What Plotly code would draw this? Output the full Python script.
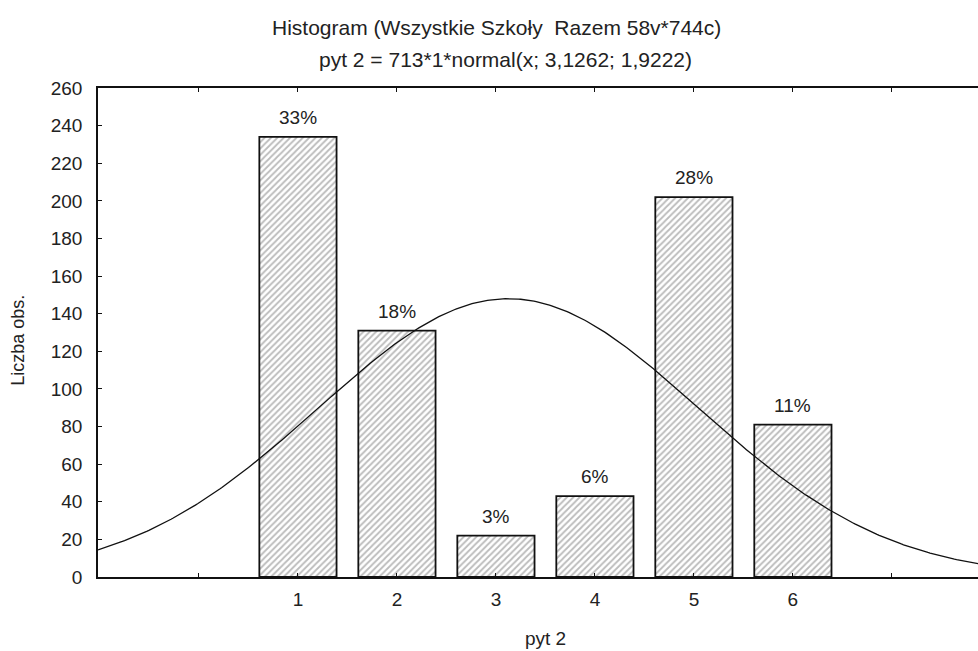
import numpy as np
import plotly.graph_objects as go

# Data
categories = [1, 2, 3, 4, 5, 6]
counts = [234, 131, 22, 43, 202, 81]
pct_labels = ["33%", "18%", "3%", "6%", "28%", "11%"]

# Fitted normal curve parameters (from the chart subtitle)
n_obs = 713
bin_width = 1
mu = 3.1262
sigma = 1.9222

x_tick_vals = [0, 1, 2, 3, 4, 5, 6, 7]
x_tick_text = ["", "1", "2", "3", "4", "5", "6", ""]
y_tick_vals = list(range(0, 261, 20))

title_line1 = "Histogram (Wszystkie Szkoły  Razem 58v*744c)"
title_line2 = "pyt 2 = 713*1*normal(x; 3,1262; 1,9222)"
x_title = "pyt 2"
y_title = "Liczba obs."

xs = np.linspace(-1.02, 7.9, 400)
ys = n_obs * bin_width * np.exp(-0.5 * ((xs - mu) / sigma) ** 2) / (sigma * np.sqrt(2 * np.pi))

FONT = "Liberation Sans, Arial, sans-serif"
TXT = "#222"

fig = go.Figure()
fig.add_trace(go.Bar(
    x=categories, y=counts, width=0.78,
    marker=dict(
        color="white",
        line=dict(color="#111", width=1.8),
        pattern=dict(shape="/", fgcolor="#777", bgcolor="white", size=4.5, solidity=0.4),
    ),
    showlegend=False,
))
fig.add_trace(go.Scatter(
    x=xs, y=ys, mode="lines", line=dict(color="#111", width=1.3),
    showlegend=False, hoverinfo="skip",
))

annotations = []
for c, v, t in zip(categories, counts, pct_labels):
    annotations.append(dict(
        x=c, y=v, xref="x", yref="y", text=t, showarrow=False,
        yanchor="bottom", yshift=7,
        font=dict(family=FONT, size=19, color=TXT),
    ))
annotations += [
    dict(x=0.4534, y=1.1227, xref="paper", yref="paper", text=title_line1,
         showarrow=False, xanchor="center", yanchor="middle",
         font=dict(family=FONT, size=21, color=TXT)),
    dict(x=0.4625, y=1.0573, xref="paper", yref="paper", text=title_line2,
         showarrow=False, xanchor="center", yanchor="middle",
         font=dict(family=FONT, size=21, color=TXT)),
    dict(x=0.509, y=-0.125, xref="paper", yref="paper", text=x_title,
         showarrow=False, xanchor="center", yanchor="middle",
         font=dict(family=FONT, size=19, color=TXT)),
    dict(x=-0.091, y=0.485, xref="paper", yref="paper", text=y_title,
         showarrow=False, xanchor="center", yanchor="middle", textangle=-90,
         font=dict(family=FONT, size=18, color=TXT)),
]

fig.update_layout(
    width=978, height=651,
    margin=dict(l=98, r=0, t=88, b=74, autoexpand=False),
    paper_bgcolor="white", plot_bgcolor="white",
    font=dict(family=FONT, color=TXT, size=16),
    annotations=annotations,
)
fig.update_xaxes(
    range=[-1.02, 7.87], tickvals=x_tick_vals, ticktext=x_tick_text,
    showline=True, linecolor="#111", linewidth=1.5, mirror="ticks",
    ticks="inside", ticklen=4, tickcolor="#111",
    showgrid=False, zeroline=False, automargin=False,
    ticklabelstandoff=4,
    tickfont=dict(family=FONT, size=19, color=TXT),
)
fig.update_yaxes(
    range=[0, 260], tickvals=y_tick_vals,
    showline=True, linecolor="#111", linewidth=1.5,
    ticks="inside", ticklen=4, tickcolor="#111",
    showgrid=False, zeroline=False, automargin=False,
    ticklabelstandoff=10,
    tickfont=dict(family=FONT, size=19, color=TXT),
)

fig.write_html(
    "out.html",
    config={"displayModeBar": False},
    post_script="document.body.style.margin='0';document.body.style.overflow='hidden';",
)
